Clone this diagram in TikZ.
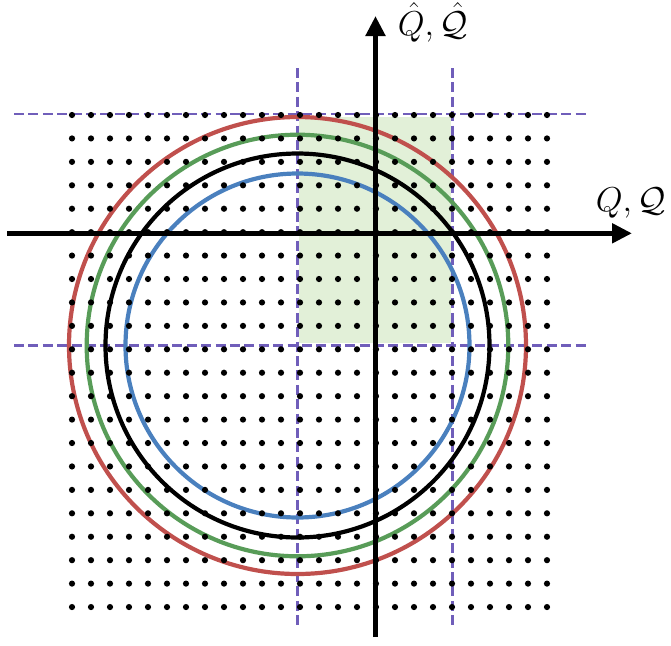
\documentclass[tikz,border=0pt]{standalone}
\usepackage{amsmath,amssymb}
\usetikzlibrary{arrows.meta}
\definecolor{ringred}{RGB}{192,80,77}
\definecolor{ringgreen}{RGB}{88,156,88}
\definecolor{ringblue}{RGB}{74,128,190}
\definecolor{cutpurple}{RGB}{112,94,186}
\definecolor{cellgreen}{RGB}{226,240,216}

\begin{document}
\begin{tikzpicture}[x=0.5pt,y=-0.5pt,
  cutline/.style={dash pattern=on 5pt off 2.2pt,line width=1.4pt,color=cutpurple},
  ring/.style={line width=2.1pt},
  axisline/.style={line width=2.6pt,-{Triangle[length=10pt,width=9.5pt]}},
  lbl/.style={font=\fontsize{18}{22}\selectfont,inner sep=0pt}]
\useasboundingbox (0,0) rectangle (671,645);
% shaded cell
\fill[cellgreen] (299,117) rectangle (451,343);
% cut lines
\coordinate (c) at (297.5,345.5);
\coordinate (hl1) at (14,114);  \coordinate (hr1) at (589,114);
\coordinate (hl2) at (14,345.5); \coordinate (hr2) at (589,345.5);
\coordinate (vt1) at (297.5,68); \coordinate (vb1) at (297.5,629);
\coordinate (vt2) at (452.3,68); \coordinate (vb2) at (452.3,629);
\draw[cutline] (hl1) -- (hr1);
\draw[cutline] (hl2) -- (hr2);
\draw[cutline] (vt1) -- (vb1);
\draw[cutline] (vt2) -- (vb2);
% rings
\draw[ring,ringred] (c) circle[radius=228.5];
\draw[ring,ringgreen] (c) circle[radius=210.8];
\draw[ring,black] (c) circle[radius=192];
\draw[ring,ringblue] (c) circle[radius=172];
% lattice
\foreach \i in {0,...,25}
  \foreach \j in {0,...,21}
    \fill (72+19*\i,115+23.43*\j) circle[radius=3.1];
% axes
\coordinate (xl) at (7,233.3);     \coordinate (xr) at (632,233.3);
\coordinate (yb) at (375.5,637);   \coordinate (yt) at (375.5,16);
\draw[axisline] (xl) -- (xr);
\draw[axisline] (yb) -- (yt);
\node[lbl,anchor=base] (xlab) at (631,211) {$Q,\mathcal{Q}$};
\node[lbl,anchor=base] (ylab) at (433,35) {$\hat{Q},\hat{\mathcal{Q}}$};
\end{tikzpicture}
\end{document}
